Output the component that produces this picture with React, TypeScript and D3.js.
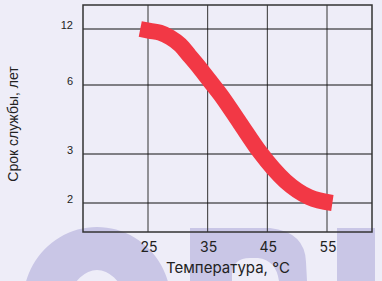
import React from "react";
import * as d3 from "d3";

// temperature, °C -> service life, years
const temps = [23.7, 25.3, 27, 28.7, 30.4, 32, 33.7, 35.4, 37.1, 40.4, 43.7, 48, 52, 55.9];
const lifeYears = [12, 11.8, 11.6, 11.1, 10.3, 9.1, 7.8, 6.4, 5.6, 4.35, 3.1, 2.45, 2.12, 2.0];

const xTicks = [25, 35, 45, 55];
const yTicks = [2, 3, 6, 12];

const W = 382;
const H = 281;
const frame = { left: 83, top: 5, right: 372, bottom: 232 };

const App = () => {
  const x = d3.scaleLinear().domain([25, 55]).range([148, 327]);
  // the axis is not evenly spaced, so a piecewise scale over the ticks
  const y = d3.scaleLinear().domain(yTicks).range([203, 154, 85, 29]);

  const pts: [number, number][] = temps.map((t, i) => [t, lifeYears[i]]);
  const line = d3
    .line<[number, number]>()
    .x((d) => x(d[0]))
    .y((d) => y(d[1]))
    .curve(d3.curveMonotoneX);

  return (
    <svg
      width={W}
      height={H}
      style={{ position: "absolute", left: 0, top: 0, display: "block" }}
    >
      <rect width={W} height={H} fill="#eeedf8" />

      {/* watermark letters */}
      <g fill="#c9c6e6">
        <path
          fillRule="evenodd"
          d="M97,227 A74,76 0 1,1 96.9,227 Z M97,270 A34,56 0 1,0 97.1,270 Z"
        />
        <path
          fillRule="evenodd"
          d="M190,228 L270,228 Q305,232 306,262 L307,281 L190,281 Z M232,281 L232,274 Q233,258 250,258 L258,258 Q276,260 279,281 Z"
        />
        <rect x={337} y={228} width={38} height={53} />
      </g>

      {/* grid */}
      <g stroke="#111" strokeWidth={1}>
        {xTicks.map((t) => (
          <line
            key={"gx" + t}
            x1={x(t)}
            x2={x(t)}
            y1={frame.top}
            y2={frame.bottom}
            stroke="#333"
          />
        ))}
        {yTicks.map((t) => (
          <line
            key={"gy" + t}
            x1={frame.left}
            x2={frame.right}
            y1={y(t)}
            y2={y(t)}
          />
        ))}
      </g>
      <rect
        x={frame.left}
        y={frame.top}
        width={frame.right - frame.left}
        height={frame.bottom - frame.top}
        fill="none"
        stroke="#333"
        strokeWidth={1.5}
      />

      <path
        d={line(pts) || ""}
        fill="none"
        stroke="#f23845"
        strokeWidth={16}
        strokeLinecap="butt"
      />

      {/* y tick labels */}
      <g fontFamily="Liberation Sans, Arial, sans-serif" fontSize={11} fill="#222">
        {yTicks.map((t) => (
          <text key={"ty" + t} x={73} y={y(t) - 3} textAnchor="end" dominantBaseline="middle">
            {t}
          </text>
        ))}
      </g>

      {/* x tick labels */}
      <g fontFamily="Inter, sans-serif" fontSize={14} fill="#222">
        {xTicks.map((t) => (
          <text key={"tx" + t} x={x(t) + 1} y={252} textAnchor="middle">
            {t}
          </text>
        ))}
      </g>

      <text
        x={228}
        y={273}
        textAnchor="middle"
        fontFamily="Inter, sans-serif"
        fontSize={15}
        fill="#222"
      >
        Температура, °C
      </text>
      <text
        transform="translate(18,124) rotate(-90)"
        textAnchor="middle"
        fontFamily="Liberation Sans, Arial, sans-serif"
        fontSize={14}
        fill="#222"
      >
        Срок службы, лет
      </text>
    </svg>
  );
};

export default App;
